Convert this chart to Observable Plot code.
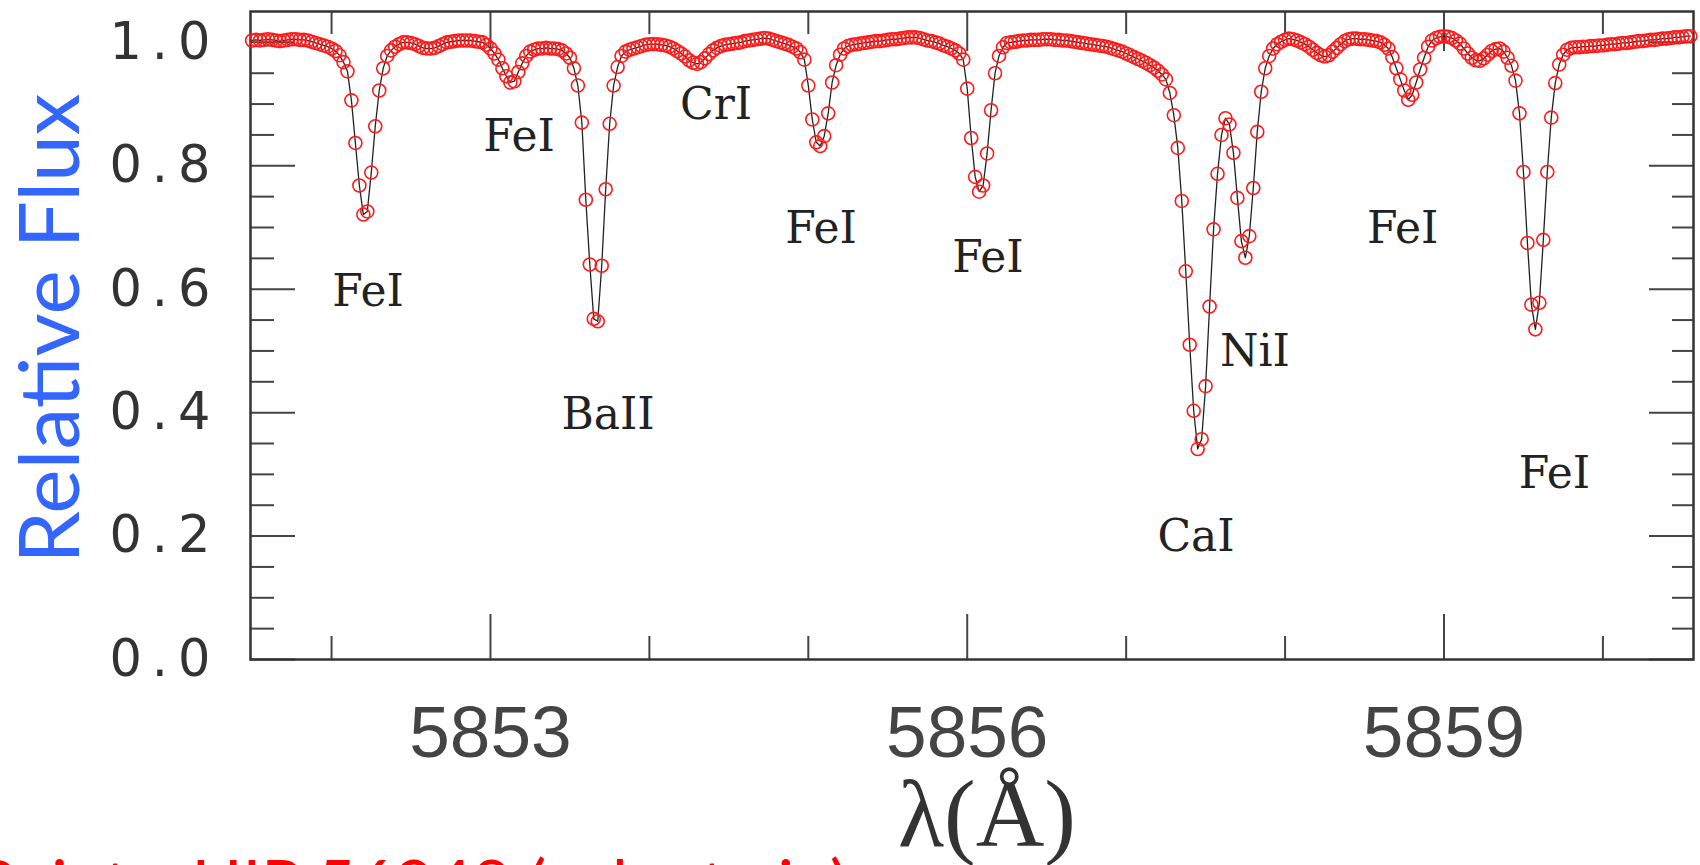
<!DOCTYPE html>
<html>
<head>
<meta charset="utf-8">
<script src="https://cdn.jsdelivr.net/npm/d3@7"></script>
<script src="https://cdn.jsdelivr.net/npm/@observablehq/plot@0.6"></script>
<style>
  html, body { margin: 0; padding: 0; background: #fff; }
  #wrap { position: relative; width: 1700px; height: 865px; overflow: hidden; background: #fff; }
  #caption { position: absolute; left: -25px; top: 850px; font-family: Lato, "Open Sans", sans-serif; font-size: 67px; line-height: 1; color: #ff0000; white-space: nowrap; }
  .spec g[aria-label="y-axis tick label"] text { letter-spacing: 10px; }
</style>
</head>
<body>
<div id="wrap"><div id="chart"></div><div id="caption">Points: HIP 56948 (solar twin)</div></div>
<script>
// Spectrum of HIP 56948 (wavelength in Å, relative flux)
const wavelength = [
  5851.500,5851.525,5851.550,5851.575,5851.600,5851.625,5851.650,5851.675,
  5851.700,5851.725,5851.750,5851.775,5851.800,5851.825,5851.850,5851.875,
  5851.900,5851.925,5851.950,5851.975,5852.000,5852.025,5852.050,5852.075,
  5852.100,5852.125,5852.150,5852.175,5852.200,5852.225,5852.250,5852.275,
  5852.300,5852.325,5852.350,5852.375,5852.400,5852.425,5852.450,5852.475,
  5852.500,5852.525,5852.550,5852.575,5852.600,5852.625,5852.650,5852.675,
  5852.700,5852.725,5852.750,5852.775,5852.800,5852.825,5852.850,5852.875,
  5852.900,5852.925,5852.950,5852.975,5853.000,5853.025,5853.050,5853.075,
  5853.100,5853.125,5853.150,5853.175,5853.200,5853.225,5853.250,5853.275,
  5853.300,5853.325,5853.350,5853.375,5853.400,5853.425,5853.450,5853.475,
  5853.500,5853.525,5853.550,5853.575,5853.600,5853.625,5853.650,5853.675,
  5853.700,5853.725,5853.750,5853.775,5853.800,5853.825,5853.850,5853.875,
  5853.900,5853.925,5853.950,5853.975,5854.000,5854.025,5854.050,5854.075,
  5854.100,5854.125,5854.150,5854.175,5854.200,5854.225,5854.250,5854.275,
  5854.300,5854.325,5854.350,5854.375,5854.400,5854.425,5854.450,5854.475,
  5854.500,5854.525,5854.550,5854.575,5854.600,5854.625,5854.650,5854.675,
  5854.700,5854.725,5854.750,5854.775,5854.800,5854.825,5854.850,5854.875,
  5854.900,5854.925,5854.950,5854.975,5855.000,5855.025,5855.050,5855.075,
  5855.100,5855.125,5855.150,5855.175,5855.200,5855.225,5855.250,5855.275,
  5855.300,5855.325,5855.350,5855.375,5855.400,5855.425,5855.450,5855.475,
  5855.500,5855.525,5855.550,5855.575,5855.600,5855.625,5855.650,5855.675,
  5855.700,5855.725,5855.750,5855.775,5855.800,5855.825,5855.850,5855.875,
  5855.900,5855.925,5855.950,5855.975,5856.000,5856.025,5856.050,5856.075,
  5856.100,5856.125,5856.150,5856.175,5856.200,5856.225,5856.250,5856.275,
  5856.300,5856.325,5856.350,5856.375,5856.400,5856.425,5856.450,5856.475,
  5856.500,5856.525,5856.550,5856.575,5856.600,5856.625,5856.650,5856.675,
  5856.700,5856.725,5856.750,5856.775,5856.800,5856.825,5856.850,5856.875,
  5856.900,5856.925,5856.950,5856.975,5857.000,5857.025,5857.050,5857.075,
  5857.100,5857.125,5857.150,5857.175,5857.200,5857.225,5857.250,5857.275,
  5857.300,5857.325,5857.350,5857.375,5857.400,5857.425,5857.450,5857.475,
  5857.500,5857.525,5857.550,5857.575,5857.600,5857.625,5857.650,5857.675,
  5857.700,5857.725,5857.750,5857.775,5857.800,5857.825,5857.850,5857.875,
  5857.900,5857.925,5857.950,5857.975,5858.000,5858.025,5858.050,5858.075,
  5858.100,5858.125,5858.150,5858.175,5858.200,5858.225,5858.250,5858.275,
  5858.300,5858.325,5858.350,5858.375,5858.400,5858.425,5858.450,5858.475,
  5858.500,5858.525,5858.550,5858.575,5858.600,5858.625,5858.650,5858.675,
  5858.700,5858.725,5858.750,5858.775,5858.800,5858.825,5858.850,5858.875,
  5858.900,5858.925,5858.950,5858.975,5859.000,5859.025,5859.050,5859.075,
  5859.100,5859.125,5859.150,5859.175,5859.200,5859.225,5859.250,5859.275,
  5859.300,5859.325,5859.350,5859.375,5859.400,5859.425,5859.450,5859.475,
  5859.500,5859.525,5859.550,5859.575,5859.600,5859.625,5859.650,5859.675,
  5859.700,5859.725,5859.750,5859.775,5859.800,5859.825,5859.850,5859.875,
  5859.900,5859.925,5859.950,5859.975,5860.000,5860.025,5860.050,5860.075,
  5860.100,5860.125,5860.150,5860.175,5860.200,5860.225,5860.250,5860.275,
  5860.300,5860.325,5860.350,5860.375,5860.400,5860.425,5860.450,5860.475,
  5860.500,5860.525,5860.550
];
const flux = [
  1.003,1.004,1.003,1.004,1.005,1.004,1.003,1.002,
  1.003,1.004,1.005,1.005,1.004,1.004,1.003,1.001,
  0.999,0.997,0.995,0.993,0.990,0.986,0.979,0.968,
  0.953,0.906,0.837,0.768,0.721,0.726,0.789,0.864,
  0.922,0.958,0.978,0.987,0.993,0.997,1.000,1.000,
  0.999,0.997,0.994,0.991,0.990,0.990,0.991,0.994,
  0.997,1.000,1.001,1.002,1.003,1.003,1.003,1.003,
  1.002,1.001,1.000,0.996,0.990,0.982,0.972,0.958,
  0.945,0.935,0.937,0.952,0.966,0.978,0.985,0.988,
  0.990,0.990,0.991,0.990,0.990,0.989,0.987,0.982,
  0.975,0.958,0.930,0.870,0.745,0.640,0.552,0.548,
  0.638,0.762,0.868,0.930,0.960,0.978,0.985,0.988,
  0.990,0.992,0.994,0.996,0.997,0.997,0.997,0.996,
  0.995,0.993,0.990,0.986,0.982,0.977,0.971,0.967,
  0.965,0.968,0.974,0.981,0.987,0.991,0.994,0.996,
  0.997,0.998,0.999,1.000,1.002,1.003,1.004,1.005,
  1.006,1.007,1.006,1.004,1.002,1.000,0.998,0.996,
  0.993,0.990,0.984,0.972,0.930,0.875,0.838,0.832,
  0.848,0.885,0.935,0.963,0.980,0.990,0.994,0.996,
  0.997,0.998,0.999,1.000,1.001,1.002,1.002,1.003,
  1.004,1.005,1.005,1.006,1.007,1.008,1.008,1.008,
  1.007,1.005,1.003,1.002,1.000,0.998,0.995,0.993,
  0.990,0.987,0.982,0.972,0.925,0.845,0.782,0.758,
  0.768,0.820,0.890,0.950,0.978,0.992,0.999,1.000,
  1.001,1.002,1.003,1.003,1.004,1.004,1.004,1.005,
  1.005,1.005,1.004,1.004,1.003,1.003,1.002,1.001,
  1.000,0.999,0.998,0.997,0.996,0.995,0.994,0.993,
  0.991,0.989,0.987,0.985,0.982,0.979,0.976,0.973,
  0.970,0.967,0.963,0.959,0.954,0.948,0.940,0.918,
  0.882,0.829,0.743,0.629,0.510,0.403,0.341,0.357,
  0.443,0.572,0.697,0.787,0.850,0.877,0.867,0.821,
  0.748,0.678,0.651,0.686,0.764,0.855,0.920,0.958,
  0.978,0.990,0.997,1.001,1.004,1.006,1.005,1.003,
  1.000,0.997,0.993,0.988,0.983,0.979,0.977,0.979,
  0.985,0.991,0.997,1.002,1.005,1.006,1.006,1.005,
  1.005,1.004,1.003,1.002,1.000,0.996,0.990,0.976,
  0.958,0.940,0.922,0.907,0.915,0.935,0.956,0.975,
  0.993,1.003,1.007,1.009,1.010,1.009,1.007,1.003,
  0.998,0.990,0.982,0.975,0.971,0.970,0.974,0.980,
  0.986,0.989,0.990,0.985,0.975,0.962,0.938,0.885,
  0.790,0.675,0.575,0.535,0.578,0.680,0.790,0.878,
  0.934,0.964,0.980,0.988,0.991,0.992,0.992,0.993,
  0.993,0.994,0.994,0.995,0.995,0.996,0.997,0.997,
  0.998,0.999,0.999,1.000,1.001,1.002,1.002,1.003,
  1.004,1.004,1.005,1.006,1.006,1.007,1.008,1.008,
  1.009,1.010,1.010
];

// Line identifications (label text, wavelength, flux position)
const lineLabels = ["FeI", "FeI", "BaII", "CrI", "FeI", "FeI", "CaI", "NiI", "FeI", "FeI"];
const labelWavelength = [5852.23, 5853.18, 5853.74, 5854.42, 5855.08, 5856.13, 5857.44, 5857.81, 5858.74, 5859.695];
const labelFlux = [0.596, 0.846, 0.396, 0.899, 0.698, 0.650, 0.199, 0.498, 0.698, 0.300];

// Axis ticks
const yMajor = [0.0, 0.2, 0.4, 0.6, 0.8, 1.0];
const yMinor = [0.05, 0.10, 0.15, 0.25, 0.30, 0.35, 0.45, 0.50, 0.55, 0.65, 0.70, 0.75, 0.85, 0.90, 0.95];
const xMajor = [5853, 5856, 5859];
const xMinor = [5852, 5854, 5855, 5857, 5858, 5860];
const xDomain = [5851.49, 5860.57];
const yDomain = [0, 1.05];

const xTitle = "λ(Å)";
const yTitle = "Relative Flux";

const W = 1700, H = 865, mL = 250, mR = 7, mT = 11, mB = 206;
const pw = W - mL - mR, ph = H - mT - mB;

const spectrum = wavelength.map((w, i) => ({w, f: flux[i]}));
const labels = lineLabels.map((t, i) => ({t, w: labelWavelength[i], f: labelFlux[i]}));

const tickColor = "#444";

const chart = Plot.plot({
  width: W, height: H,
  marginLeft: mL, marginRight: mR, marginTop: mT, marginBottom: mB,
  className: "spec",
  style: {background: "white", overflow: "visible"},
  x: {domain: xDomain},
  y: {domain: yDomain},
  marks: [
    // tick labels
    Plot.axisY(yMajor, {tickSize: 0, tickPadding: 30, tickFormat: d3.format(".1f"), label: null,
      fontSize: 51, fontFamily: "DejaVu Sans", fill: "#333"}),
    Plot.axisX(xMajor, {tickSize: 0, tickPadding: 46, tickFormat: d => String(d), label: null,
      fontSize: 73, fontFamily: "Liberation Sans", fill: "#444"}),
    // inward ticks: left
    Plot.tickY(yMajor, {y: d => d, insetRight: pw - 45, stroke: tickColor, strokeWidth: 2}),
    Plot.tickY(yMinor, {y: d => d, insetRight: pw - 24, stroke: tickColor, strokeWidth: 2}),
    // right
    Plot.tickY(yMajor, {y: d => d, insetLeft: pw - 44, stroke: tickColor, strokeWidth: 2}),
    Plot.tickY(yMinor, {y: d => d, insetLeft: pw - 21, stroke: tickColor, strokeWidth: 2}),
    // bottom
    Plot.tickX(xMajor, {x: d => d, insetTop: ph - 45, stroke: tickColor, strokeWidth: 2}),
    Plot.tickX(xMinor, {x: d => d, insetTop: ph - 23, stroke: tickColor, strokeWidth: 2}),
    // top
    Plot.tickX(xMajor, {x: d => d, insetBottom: ph - 40, stroke: tickColor, strokeWidth: 2}),
    Plot.tickX(xMinor, {x: d => d, insetBottom: ph - 23, stroke: tickColor, strokeWidth: 2}),
    Plot.frame({stroke: "#333", strokeWidth: 2.5}),
    // spectrum
    Plot.line(spectrum, {x: "w", y: "f", stroke: "#222", strokeWidth: 1.3}),
    Plot.dot(spectrum, {x: "w", y: "f", r: 6.5, stroke: "#ff1a1a", strokeWidth: 1.6, fill: "none"}),
    // line labels
    Plot.text(labels, {x: "w", y: "f", text: "t", fontSize: 44, fontFamily: "DejaVu Serif", fill: "#222"}),
    // axis titles
    Plot.text([xTitle], {text: d => d, frameAnchor: "bottom", textAnchor: "middle", dx: 15, dy: 186, fontSize: 95,
      fontFamily: "Liberation Serif", fill: "#333"}),
    Plot.text([yTitle], {text: d => d, frameAnchor: "left", textAnchor: "middle", rotate: -90, dx: -198, dy: -7, fontSize: 84,
      fontFamily: "Lato", fill: "#3366ff"})
  ]
});
document.getElementById("chart").appendChild(chart);
</script>
</body>
</html>
